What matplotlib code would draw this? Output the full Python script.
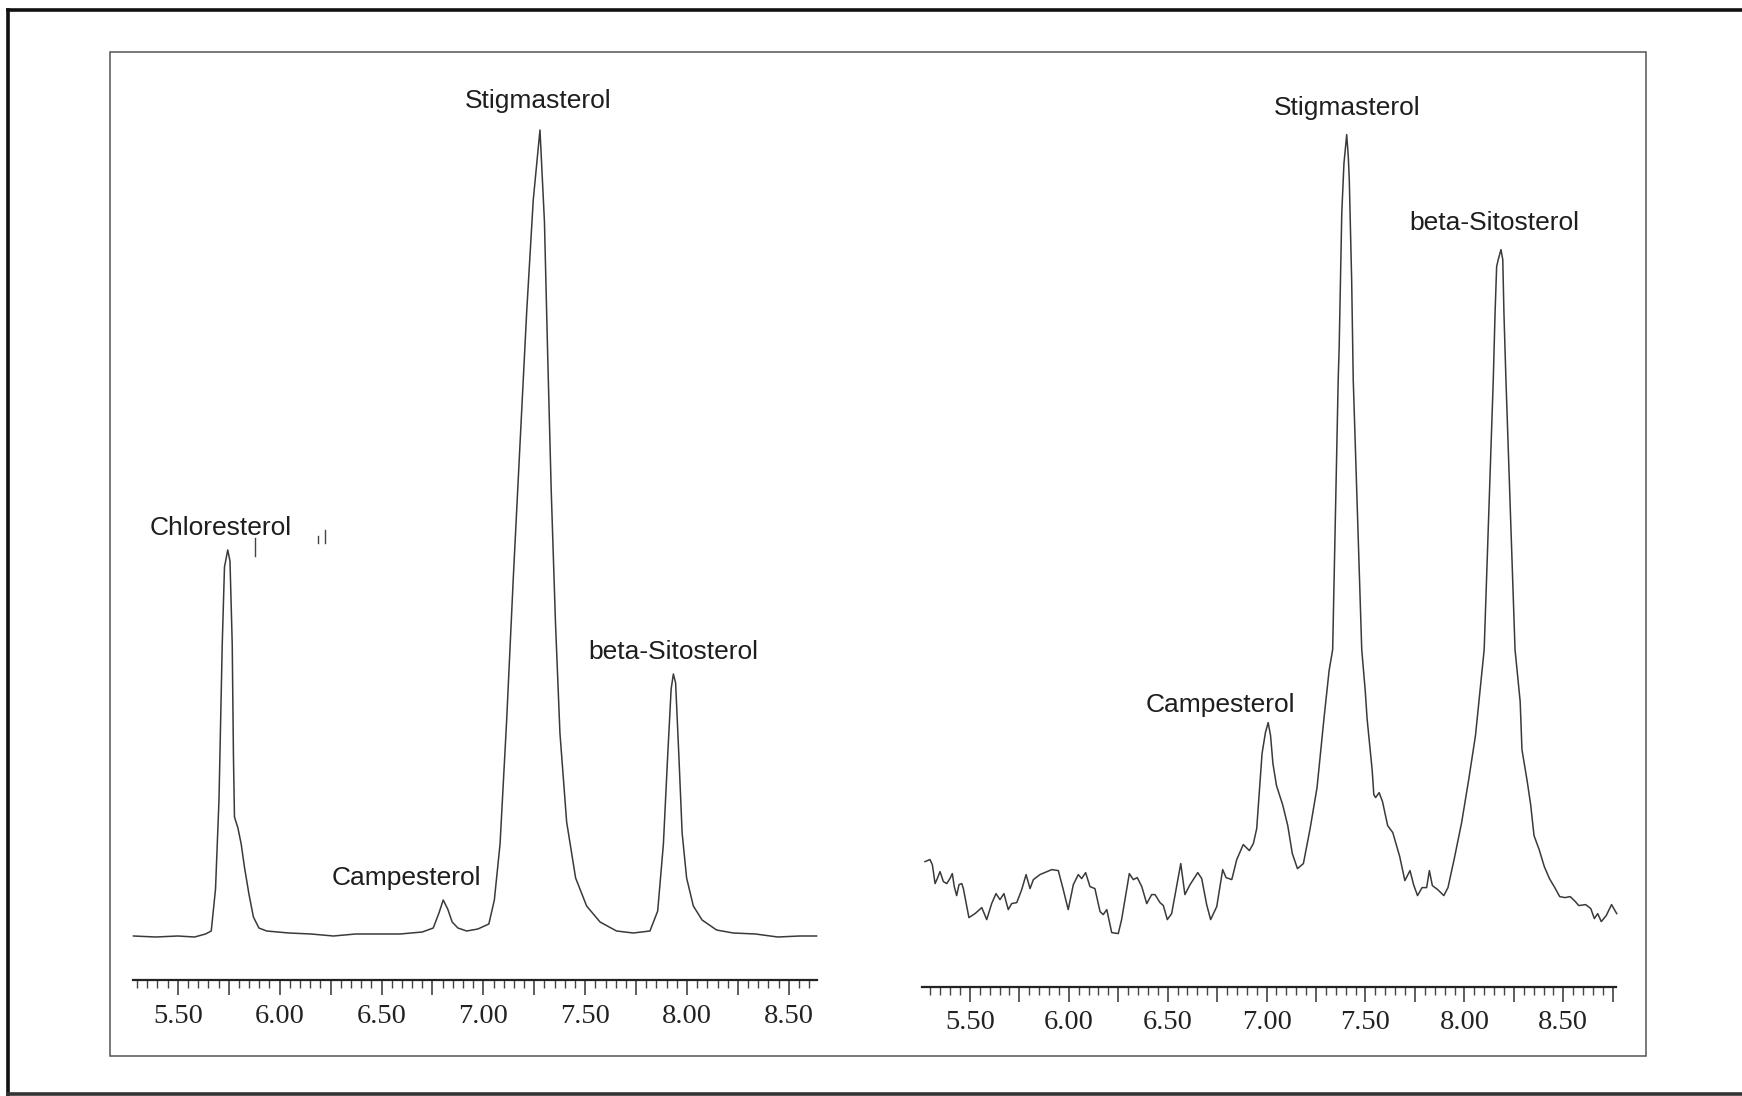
import numpy as np
import matplotlib
matplotlib.use("Agg")
import matplotlib.pyplot as plt
from matplotlib.lines import Line2D
from matplotlib.patches import Rectangle
from matplotlib.ticker import FixedLocator, FuncFormatter

# ---- Standard mixture chromatogram (retention time, min / detector response) ----
std_time = [5.282, 5.391, 5.500, 5.582, 5.636, 5.664, 5.685, 5.702, 5.718, 5.729,
            5.745, 5.756, 5.767, 5.773, 5.778, 5.795, 5.811, 5.827, 5.849, 5.871,
            5.898, 5.936, 6.045, 6.154, 6.264, 6.373, 6.482, 6.591, 6.700, 6.754,
            6.782, 6.803, 6.825, 6.847, 6.875, 6.918, 6.973, 7.027, 7.054, 7.082,
            7.114, 7.147, 7.180, 7.213, 7.245, 7.278, 7.300, 7.316, 7.333, 7.354,
            7.376, 7.409, 7.453, 7.507, 7.573, 7.654, 7.736, 7.818, 7.856, 7.884,
            7.905, 7.922, 7.933, 7.944, 7.960, 7.976, 7.998, 8.031, 8.074, 8.145,
            8.227, 8.336, 8.445, 8.554, 8.636]
std_signal = [44, 43, 44, 43, 46, 49, 91, 180, 336, 413,
              430, 419, 336, 224, 163, 152, 136, 113, 86, 63,
              52, 49, 47, 46, 44, 46, 46, 46, 48, 52,
              67, 80, 71, 58, 52, 49, 51, 56, 80, 136,
              258, 402, 536, 669, 780, 850, 758, 624, 491, 358,
              247, 158, 102, 74, 58, 49, 47, 49, 69, 136,
              224, 291, 306, 297, 224, 147, 102, 74, 60, 50,
              47, 46, 43, 44, 44]
std_names = ["Chloresterol", "Campesterol", "Stigmasterol", "beta-Sitosterol"]
std_rt = [5.745, 6.803, 7.278, 7.933]

# ---- Sample extract chromatogram ----
smp_time = [5.273, 5.298, 5.310, 5.324, 5.335, 5.349, 5.366, 5.383, 5.399, 5.411,
            5.421, 5.433, 5.445, 5.459, 5.467, 5.495, 5.526, 5.560, 5.585, 5.610,
            5.632, 5.652, 5.672, 5.694, 5.711, 5.737, 5.762, 5.784, 5.804, 5.821,
            5.854, 5.914, 5.947, 5.972, 5.997, 6.023, 6.048, 6.065, 6.085, 6.107,
            6.132, 6.158, 6.174, 6.192, 6.217, 6.250, 6.267, 6.306, 6.326, 6.346,
            6.369, 6.394, 6.419, 6.436, 6.461, 6.478, 6.498, 6.520, 6.566, 6.587,
            6.613, 6.652, 6.672, 6.697, 6.717, 6.748, 6.778, 6.795, 6.824, 6.849,
            6.882, 6.913, 6.933, 6.950, 6.977, 6.994, 7.008, 7.020, 7.032, 7.050,
            7.081, 7.107, 7.130, 7.156, 7.186, 7.220, 7.255, 7.290, 7.316, 7.334,
            7.362, 7.367, 7.380, 7.391, 7.405, 7.413, 7.418, 7.430, 7.438, 7.481,
            7.499, 7.508, 7.534, 7.542, 7.551, 7.569, 7.586, 7.612, 7.638, 7.673,
            7.699, 7.725, 7.743, 7.763, 7.786, 7.809, 7.823, 7.838, 7.865, 7.896,
            7.917, 7.951, 7.986, 8.021, 8.056, 8.082, 8.100, 8.146, 8.155, 8.163,
            8.171, 8.185, 8.194, 8.200, 8.210, 8.256, 8.282, 8.291, 8.317, 8.335,
            8.352, 8.378, 8.404, 8.430, 8.457, 8.482, 8.509, 8.535, 8.561, 8.578,
            8.613, 8.639, 8.657, 8.674, 8.692, 8.717, 8.744, 8.770]
smp_signal = [125, 127, 122, 103, 108, 115, 105, 103, 108, 113,
              100, 91, 102, 103, 98, 69, 73, 79, 67, 83,
              93, 87, 93, 77, 83, 84, 97, 112, 98, 107,
              112, 117, 116, 97, 77, 102, 112, 108, 114, 100,
              98, 75, 72, 77, 54, 53, 67, 113, 107, 109,
              100, 83, 92, 92, 84, 81, 67, 73, 123, 92,
              102, 114, 108, 82, 67, 80, 117, 109, 107, 127,
              142, 136, 143, 158, 233, 254, 264, 251, 223, 201,
              182, 161, 133, 118, 123, 158, 199, 268, 316, 337,
              607, 640, 773, 823, 852, 830, 807, 707, 607, 337,
              295, 268, 216, 192, 189, 194, 185, 161, 154, 130,
              106, 116, 102, 91, 99, 99, 116, 101, 97, 91,
              99, 130, 164, 206, 251, 302, 337, 607, 673, 720,
              727, 737, 727, 673, 607, 337, 285, 237, 206, 182,
              151, 137, 120, 108, 99, 90, 89, 90, 85, 81,
              82, 78, 68, 73, 65, 71, 82, 73]
smp_names = ["Campesterol", "Stigmasterol", "beta-Sitosterol"]
smp_rt = [7.008, 7.405, 8.185]

# retention-time event marks printed by the integrator
event_time = [5.879, 6.188, 6.222]
event_lo = [424, 437, 437]
event_hi = [442, 444, 450]

W, H = 1742, 1096
fig = plt.figure(figsize=(W / 100, H / 100), dpi=100)
fig.patch.set_facecolor("white")

LABEL_FONT = ["Liberation Sans", "DejaVu Sans"]
TICK_FONT = ["Liberation Serif", "DejaVu Serif"]
TRACE = "#3a3a3a"


def px_axes(x0, x1, y_top, y_bot):
    return fig.add_axes([x0 / W, 1 - y_bot / H, (x1 - x0) / W, (y_bot - y_top) / H])


def style_axis(ax, lo, hi):
    for s in ("top", "right", "left"):
        ax.spines[s].set_visible(False)
    ax.spines["bottom"].set_bounds(lo, hi)
    ax.spines["bottom"].set_linewidth(1.6)
    ax.spines["bottom"].set_color("#222222")
    ax.yaxis.set_visible(False)
    start = np.ceil(lo / 0.05 - 1e-6) * 0.05
    minor = np.round(np.arange(start, hi + 1e-6, 0.05), 2)
    major = [v for v in minor if abs(v / 0.25 - round(v / 0.25)) < 1e-6]
    ax.xaxis.set_major_locator(FixedLocator(major))
    ax.xaxis.set_minor_locator(FixedLocator(minor))
    ax.xaxis.set_major_formatter(FuncFormatter(
        lambda v, p: f"{v:.2f}" if abs(v / 0.5 - round(v / 0.5)) < 1e-6 else ""))
    ax.tick_params(axis="x", which="major", direction="out", length=11, width=1.1,
                   color="#333333", pad=6, labelsize=20.5, labelcolor="#222222")
    ax.tick_params(axis="x", which="minor", direction="out", length=6, width=1.0,
                   color="#444444")
    for lab in ax.get_xticklabels():
        lab.set_family(TICK_FONT)
    ax.patch.set_alpha(0)


def label_peaks(ax, t, y, names, rts, offsets):
    t = np.asarray(t)
    y = np.asarray(y)
    for name, rt, (dx, dy) in zip(names, rts, offsets):
        i = int(np.argmin(np.abs(t - rt)))
        ax.annotate(name, xy=(t[i], y[i]), xytext=(dx, dy), textcoords="offset pixels",
                    ha="center", va="center", fontsize=19, family=LABEL_FONT,
                    color="#1e1e1e")


# left: standard mixture
axL = px_axes(120, 830, 60, 980)
axL.set_xlim(5.216, 8.702)
axL.set_ylim(0, 920)
axL.plot(std_time, std_signal, color=TRACE, lw=1.1)
style_axis(axL, 5.282, 8.636)
label_peaks(axL, std_time, std_signal, std_names, std_rt,
            [(-7, 22), (-37, 22), (-2, 29), (0, 22)])
for t, lo, hi in zip(event_time, event_lo, event_hi):
    axL.plot([t, t], [lo, hi], color="#444444", lw=1.0)

# right: sample extract
axR = px_axes(900, 1640, 60, 986.6)
axR.set_xlim(5.1466, 8.8878)
axR.set_ylim(0, 926.6)
axR.plot(smp_time, smp_signal, color=TRACE, lw=1.1)
style_axis(axR, 5.258, 8.765)
label_peaks(axR, smp_time, smp_signal, smp_names, smp_rt,
            [(-48, 18), (0, 27), (-7, 27)])

# page frames
fig.add_artist(Rectangle((110 / W, 1 - 1056 / H), (1646 - 110) / W, (1056 - 52) / H,
                         transform=fig.transFigure, fill=False, ec="#555555", lw=1.1))
fig.add_artist(Line2D([8 / W, 1.0], [1 - 10 / H, 1 - 10 / H], transform=fig.transFigure,
                      color="#111111", lw=2.6))
fig.add_artist(Line2D([8 / W, 8 / W], [1 - 10 / H, 0], transform=fig.transFigure,
                      color="#111111", lw=2.6))
fig.add_artist(Line2D([8 / W, 1.0], [1 - 1094 / H, 1 - 1094 / H], transform=fig.transFigure,
                      color="#333333", lw=2.6))

fig.savefig("out.png", dpi=100, facecolor="white")
